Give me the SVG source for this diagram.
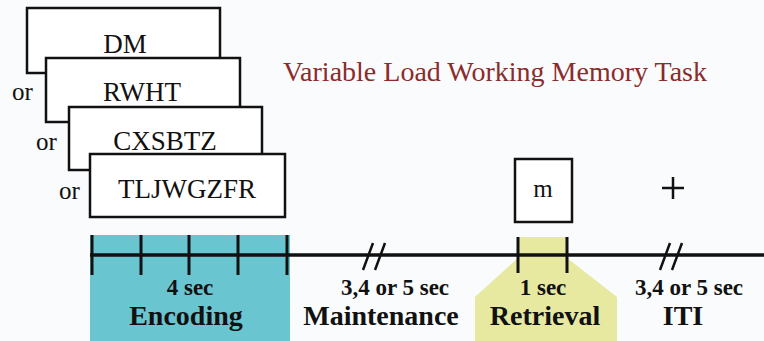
<svg xmlns="http://www.w3.org/2000/svg" width="764" height="341" viewBox="0 0 764 341">
<style>
.box{fill:#fff;stroke:#111;stroke-width:2.5}
.stim{font-family:"Liberation Serif",serif;font-size:27px;fill:#111;text-anchor:middle}
.or{font-family:"Liberation Serif",serif;font-size:25px;fill:#111}
.lbl{font-family:"Liberation Serif",serif;font-weight:bold;fill:#111;text-anchor:middle}
.s{font-size:23px}
.b{font-size:28px}
.tick{stroke:#111;stroke-width:3}
.brk{stroke:#111;stroke-width:2.5;fill:none}
</style>
<rect width="764" height="341" fill="#F9FBFC"/>
<text x="283" y="81" font-family="Liberation Serif,serif" font-size="28" fill="#8B2B2B">Variable Load Working Memory Task</text>
<g id="phase-encoding">
<rect x="90" y="235" width="200" height="106" fill="#69C5D0"/>
<text class="lbl s" x="190" y="295">4 sec</text>
<text class="lbl b" x="186" y="325">Encoding</text>
</g>
<g id="phase-retrieval">
<path d="M518 237 H567 V258 L617 297 V341 H475 V297 L518 258 Z" fill="#E6E99F"/>
<text class="lbl s" x="543" y="295">1 sec</text>
<text class="lbl b" x="545" y="325">Retrieval</text>
</g>
<g id="stim-dm">
<rect class="box" x="27" y="8" width="193" height="65"/>
<text class="stim" x="125" y="53">DM</text>
</g>
<g id="stim-rwht">
<rect class="box" x="46" y="58" width="194" height="64"/>
<text class="stim" x="142" y="101">RWHT</text>
<text class="or" x="12" y="100">or</text>
</g>
<g id="stim-cxsbtz">
<rect class="box" x="69" y="107" width="193" height="63"/>
<text class="stim" x="165" y="150">CXSBTZ</text>
<text class="or" x="36" y="150">or</text>
</g>
<g id="stim-tljwgzfr">
<rect class="box" x="90" y="154" width="195" height="63"/>
<text class="stim" x="187" y="198">TLJWGZFR</text>
<text class="or" x="59" y="199">or</text>
</g>
<g id="probe-m">
<rect class="box" x="515" y="159" width="57" height="63"/>
<text class="stim" x="543" y="197" style="font-size:25px">m</text>
</g>
<g id="fixation">
<path d="M673 177 V199 M662 188 H684" stroke="#111" stroke-width="2.5"/>
</g>
<g id="timeline">
<line x1="90" y1="255" x2="764" y2="255" stroke="#111" stroke-width="3.5"/>
<line class="tick" x1="92" y1="235" x2="92" y2="275"/>
<line class="tick" x1="141" y1="235" x2="141" y2="275"/>
<line class="tick" x1="189" y1="235" x2="189" y2="275"/>
<line class="tick" x1="238" y1="235" x2="238" y2="275"/>
<line class="tick" x1="287" y1="235" x2="287" y2="275"/>
<line class="tick" x1="518" y1="237" x2="518" y2="273"/>
<line class="tick" x1="567" y1="237" x2="567" y2="273"/>
<path class="brk" d="M373 243 L363 270 M385 243 L375 270"/>
<path class="brk" d="M670 243 L660 270 M682 243 L672 270"/>
</g>
<g id="labels">
<text class="lbl s" x="395" y="295">3,4 or 5 sec</text>
<text class="lbl b" x="381" y="325">Maintenance</text>
<text class="lbl s" x="689" y="295">3,4 or 5 sec</text>
<text class="lbl b" x="683" y="325">ITI</text>
</g>
</svg>
